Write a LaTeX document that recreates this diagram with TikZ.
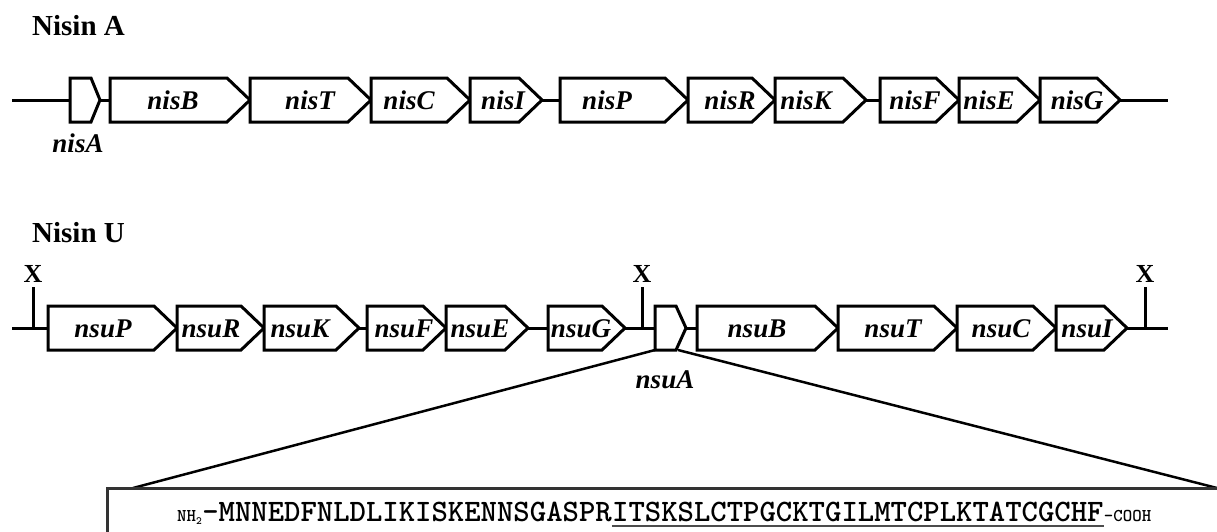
\documentclass[tikz,border=0pt]{standalone}
\usepackage{fontspec}
\setmainfont{Liberation Serif}
\tikzset{
  genebox/.style={draw=black, fill=white, line width=3pt, line join=miter},
  backbone/.style={draw=black, line width=3pt},
  glabel/.style={font=\fontsize{27}{27}\selectfont\bfseries\itshape, inner sep=0pt, anchor=base},
  titletext/.style={font=\fontsize{29}{29}\selectfont\bfseries, inner sep=0pt, anchor=base west},
  xmark/.style={font=\fontsize{26}{26}\selectfont\bfseries, inner sep=0pt, anchor=base},
  zoomline/.style={draw=black, line width=2.5pt},
  pepbox/.style={draw=black!80, line width=3pt},
  seqbig/.style={font=\fontsize{31.2}{31.2}\selectfont\ttfamily\bfseries, inner sep=0pt, anchor=base west},
  seqsmall/.style={font=\fontsize{18}{18}\selectfont\ttfamily\bfseries, inner sep=0pt, anchor=base west},
  underl/.style={draw=black!70, line width=1.5pt},
}
% #1 x1, #2 x2, #3 tip depth, #4 y, #5 label x, #6 label
\newcommand\genearrow[6]{%
  \draw[genebox] (#1,#4-22) -- (#2-#3,#4-22) -- (#2,#4) -- (#2-#3,#4+22) -- (#1,#4+22) -- cycle;
  \node[glabel] (#6) at (#5,#4+9.5) {#6};}
\newcommand\smallgene[4]{%
  \draw[genebox] (#1,#4-22) -- (#2-#3,#4-22) -- (#2,#4) -- (#2-#3,#4+22) -- (#1,#4+22) -- cycle;}
\begin{document}
\begin{tikzpicture}[x=1pt,y=-1pt]
\useasboundingbox[fill=white] (0,0) rectangle (1217,531);

% titles
\node[titletext] (titleA) at (32,35) {Nisin A};
\node[titletext] (titleU) at (32,242) {Nisin U};

% ---------- Nisin A cluster ----------
\coordinate (a0) at (12,100);
\coordinate (a1) at (1168,100);
\draw[backbone] (a0) -- (a1);
\smallgene{70}{100}{9}{100}
\node[glabel] (nisA) at (78,152) {nisA};
\genearrow{110}{250}{23}{100}{173}{nisB}
\genearrow{250}{371}{23}{100}{310}{nisT}
\genearrow{371}{470}{23}{100}{409}{nisC}
\genearrow{470}{542}{23}{100}{503}{nisI}
\genearrow{560}{688}{23}{100}{607}{nisP}
\genearrow{688}{775}{23}{100}{730}{nisR}
\genearrow{775}{866}{23}{100}{806}{nisK}
\genearrow{880}{959}{23}{100}{915}{nisF}
\genearrow{959}{1040}{23}{100}{989}{nisE}
\genearrow{1040}{1120}{23}{100}{1077}{nisG}

% ---------- Nisin U cluster ----------
\coordinate (b0) at (12,328);
\coordinate (b1) at (1168,328);

% zoom lines to the peptide box
\coordinate (nsuAbl) at (655,350);
\coordinate (nsuAbr) at (678,350);
\coordinate (zl) at (133,488);
\coordinate (zr) at (1217,488);
\draw[zoomline] (nsuAbl) -- (zl);
\draw[zoomline] (nsuAbr) -- (zr);

\draw[backbone] (b0) -- (b1);
\node[xmark] (xA) at (33,282) {X};
\node[xmark] (xB) at (642,282) {X};
\node[xmark] (xC) at (1145,282) {X};
\foreach \n in {xA,xB,xC}{
  \draw[backbone] ([yshift=-5pt]\n.south) -- (\n.south |- b0);
}
\genearrow{48}{177}{23}{328}{103}{nsuP}
\genearrow{177}{264}{23}{328}{211}{nsuR}
\genearrow{264}{359}{23}{328}{300}{nsuK}
\genearrow{367}{446}{23}{328}{404}{nsuF}
\genearrow{446}{528}{23}{328}{480}{nsuE}
\genearrow{548}{625}{23}{328}{581}{nsuG}
\smallgene{655}{686}{10}{328}
\node[glabel] (nsuA) at (665,388) {nsuA};
\genearrow{697}{838}{23}{328}{757}{nsuB}
\genearrow{838}{957}{23}{328}{893}{nsuT}
\genearrow{957}{1056}{23}{328}{1001}{nsuC}
\genearrow{1056}{1127}{23}{328}{1087}{nsuI}

% ---------- peptide box ----------
\coordinate (pbl) at (107,533);
\coordinate (ptl) at (107,488);
\draw[pepbox] (pbl) -- (ptl) -- (zr);
\node[seqsmall] (nh) at (177,521) {NH\raisebox{-3pt}{\fontsize{11}{11}\selectfont 2}};
\node[seqbig] (pre) at (nh.base east) {-MNNEDFNLDLIKISKENNSGASPR};
\node[seqbig] (core) at (pre.base east) {ITSKSLCTPGCKTGILMTCPLKTATCGCHF};
\node[seqsmall] (cooh) at (core.base east) {-COOH};
\draw[underl] ([yshift=-5pt]core.base west) -- ([yshift=-5pt]core.base east);
\end{tikzpicture}
\end{document}
